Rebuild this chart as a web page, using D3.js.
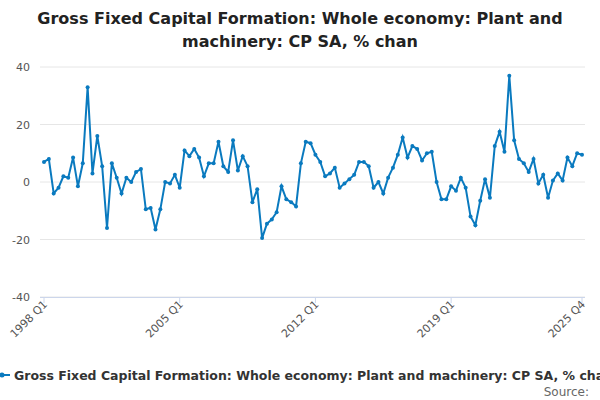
<!DOCTYPE html>
<html><head><meta charset="utf-8">
<script src="https://cdn.jsdelivr.net/npm/d3@7"></script>
<style>body{margin:0;background:#fff}svg{font-family:"DejaVu Sans",sans-serif}</style>
</head><body><svg id="c" width="600" height="400"></svg>
<script>
const values=[7,8,-4,-2,2,1.5,8.5,-1.5,6.5,33,3,16,5.5,-16,6.5,1.5,-4,1.5,0,3.5,4.5,-9.5,-9,-16.5,-9.5,0,-0.5,2.5,-2,11,9,11.5,8.5,2,6.5,6.5,14,5.5,3.5,14.5,4,9,5.5,-7,-2.5,-19.5,-14.5,-13,-10.5,-1.5,-6,-7,-8.5,6.5,14,13.5,9.5,7,2,3,5,-2,-0.5,1,2.5,7,7,5.5,-2,0,-4,1.5,5,9.5,15.5,8.5,12.5,11.5,7.5,10,10.5,0,-6,-6,-1.5,-3,1.5,-2,-12,-15,-6.5,1,-5.5,12.5,17.5,10.5,37,14.5,8,6.5,3.5,8,-0.5,2.5,-5.5,0.5,3,0.5,8.5,5.5,10,9.5];
const quarters=values.map((v,i)=>`${1998+Math.floor(i/4)} Q${i%4+1}`);
const tickLabels=["1998 Q1","2005 Q1","2012 Q1","2019 Q1","2025 Q4"];
const yTicks=[-40,-20,0,20,40];
const title=["Gross Fixed Capital Formation: Whole economy: Plant and","machinery: CP SA, % chan"];
const seriesName="Gross Fixed Capital Formation: Whole economy: Plant and machinery: CP SA, % change";
const svg=d3.select("#c");
const x=d3.scalePoint().domain(quarters).range([44,582]);
const y=d3.scaleLinear().domain([-40,40]).range([297,67]);
svg.selectAll("text.t").data(title).join("text").attr("x",300).attr("y",(d,i)=>24+i*23)
 .attr("text-anchor","middle").attr("font-size",16).attr("font-weight","bold").attr("fill","#222").text(d=>d);
svg.selectAll("line.g").data(yTicks).join("line").attr("x1",40).attr("x2",585)
 .attr("y1",d=>y(d)).attr("y2",d=>y(d)).attr("stroke","#e6e6e6");
svg.selectAll("text.y").data(yTicks).join("text").attr("x",30).attr("y",d=>y(d)+4)
 .attr("text-anchor","end").attr("font-size",11).attr("fill","#555").text(d=>d);
svg.append("line").attr("x1",40).attr("x2",585).attr("y1",297.5).attr("y2",297.5).attr("stroke","#ccd6eb");
tickLabels.forEach(t=>{const px=x(t);
 svg.append("line").attr("x1",px).attr("x2",px).attr("y1",297).attr("y2",303).attr("stroke","#ccd6eb");
 svg.append("text").attr("transform",`translate(${px+4},${305}) rotate(-45)`).attr("text-anchor","end")
  .attr("font-size",11).attr("fill","#555").text(t);});
svg.append("path").datum(values).attr("fill","none").attr("stroke","#0a7abf").attr("stroke-width",2)
 .attr("d",d3.line().x((d,i)=>x(quarters[i])).y(d=>y(d)));
svg.selectAll("circle").data(values).join("circle").attr("cx",(d,i)=>x(quarters[i])).attr("cy",d=>y(d))
 .attr("r",2).attr("fill","#0a7abf");
svg.append("line").attr("x1",-6).attr("x2",10).attr("y1",375).attr("y2",375).attr("stroke","#0a7abf").attr("stroke-width",2);
svg.append("circle").attr("cx",2).attr("cy",375).attr("r",2.5).attr("fill","#0a7abf");
svg.append("text").attr("x",14).attr("y",380).attr("font-size",12.5).attr("font-weight","bold").attr("fill","#333").text(seriesName);
svg.append("text").attr("x",589).attr("y",396).attr("text-anchor","end").attr("font-size",12).attr("fill","#666").text("Source:");
</script></body></html>
